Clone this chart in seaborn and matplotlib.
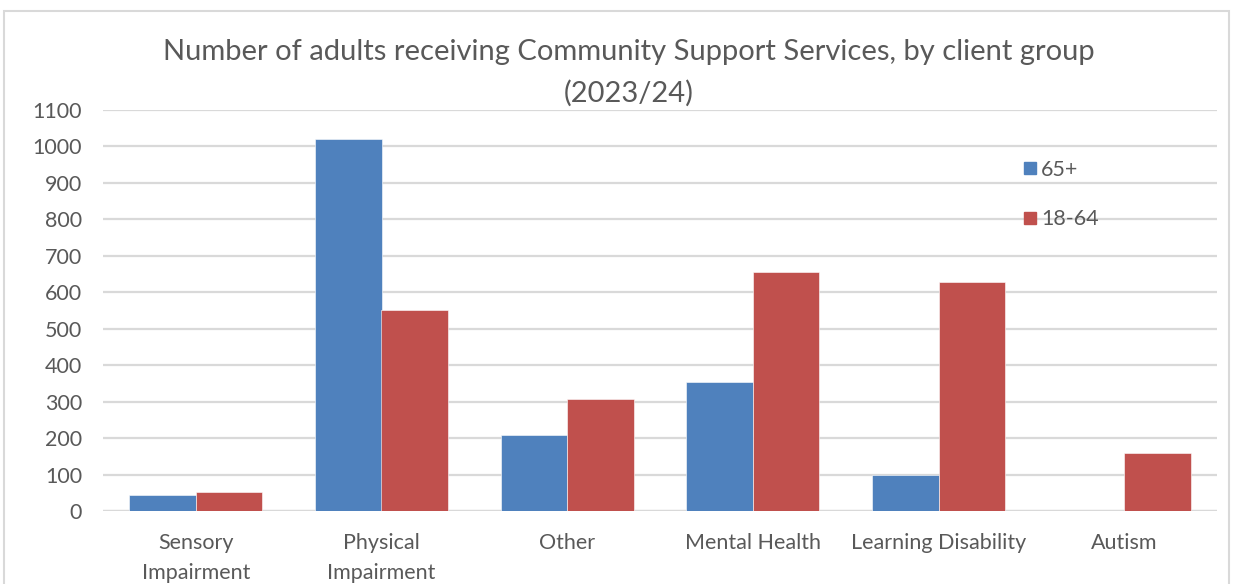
import matplotlib
matplotlib.use("Agg")
import matplotlib.pyplot as plt
from matplotlib.patches import Rectangle
from matplotlib.lines import Line2D
import seaborn as sns
import pandas as pd

categories = ["Sensory\nImpairment", "Physical\nImpairment", "Other",
              "Mental Health", "Learning Disability", "Autism"]
series_names = ["65+", "18-64"]
values_65_plus = [43, 1020, 209, 354, 98, 0]
values_18_64 = [51, 551, 308, 655, 627, 159]
y_ticks = list(range(0, 1101, 100))

colors = {"65+": "#4F81BD", "18-64": "#C0504D"}
text_color = "#595959"
grid_color = "#D9D9D9"

df = pd.DataFrame({
    "group": categories * 2,
    "age": [series_names[0]] * len(categories) + [series_names[1]] * len(categories),
    "count": values_65_plus + values_18_64,
})

sns.set_theme(style="white")
plt.rcParams["font.family"] = ["Lato", "DejaVu Sans"]

fig = plt.figure(figsize=(12.35, 5.84), dpi=100)
ax = fig.add_axes([103 / 1235, 1 - 511 / 584, (1217 - 103) / 1235, (511 - 110) / 584])

sns.barplot(data=df, x="group", y="count", hue="age", order=categories,
            hue_order=series_names, palette=colors, width=0.716,
            saturation=1, ax=ax, legend=False, edgecolor="white", linewidth=0.4)

ax.set_ylim(0, 1100)
ax.set_xlim(-0.5, len(categories) - 0.5)
ax.set_yticks(y_ticks)
ax.set_yticklabels([str(v) for v in y_ticks])
ax.yaxis.grid(True, color=grid_color, linewidth=1.6)
ax.set_axisbelow(True)
for side in ["top", "right", "left", "bottom"]:
    ax.spines[side].set_visible(False)
ax.axhline(0, color=grid_color, linewidth=1.6, zorder=0.5)
ax.tick_params(axis="both", length=0, colors=text_color, labelsize=15.5)
ax.tick_params(axis="y", pad=15)
ax.tick_params(axis="x", pad=16)
ax.set_xlabel("")
ax.set_ylabel("")
for lbl in ax.get_xticklabels():
    lbl.set_linespacing(1.6)

handles = [Line2D([0], [0], marker="s", linestyle="", markersize=8.5,
                  markerfacecolor=colors[s], markeredgecolor=colors[s])
           for s in series_names]
fig.legend(handles, series_names, loc="upper left",
           bbox_to_anchor=(1012 / 1235, 1 - 151 / 584), frameon=False,
           fontsize=15.5, labelcolor=text_color, labelspacing=1.38,
           handletextpad=0.05, handlelength=0.9, borderaxespad=0)

fig.text(629 / 1235, 1 - 52 / 584,
         "Number of adults receiving Community Support Services, by client group",
         ha="center", va="center", fontsize=21, color=text_color)
fig.text(629 / 1235, 1 - 93 / 584, "(2023/24)",
         ha="center", va="center", fontsize=21, color=text_color)

fig.patches.append(Rectangle((4 / 1235, -0.1), (1229 - 4) / 1235, 1.1 - 11 / 584,
                             transform=fig.transFigure, fill=False,
                             edgecolor=grid_color, linewidth=1.5))

fig.savefig("out.png", dpi=100)
